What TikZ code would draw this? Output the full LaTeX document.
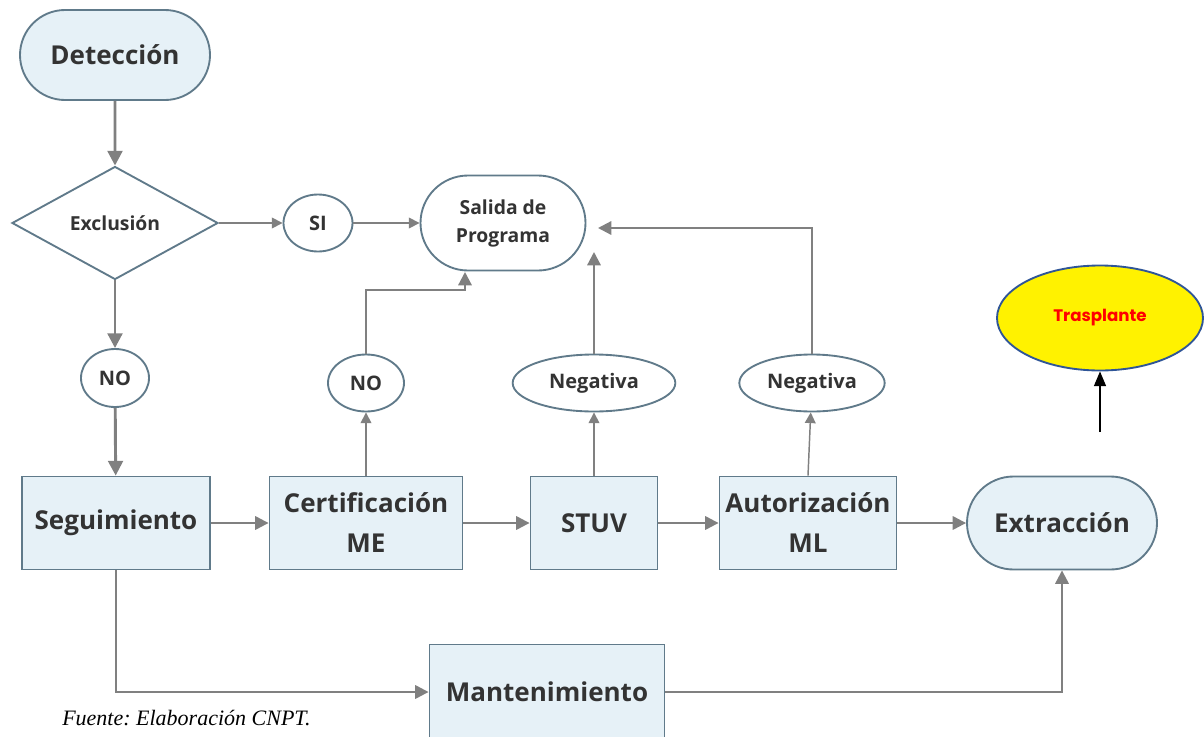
\documentclass[tikz,border=0pt]{standalone}
\usepackage{fontspec}
\setmainfont{Open Sans}
\newfontfamily\fuentefont{Liberation Serif}
\newfontfamily\trfont{Poppins}
\usetikzlibrary{shapes.geometric,shapes.misc,arrows.meta}
\definecolor{bd}{RGB}{96,122,138}
\definecolor{fl}{RGB}{230,241,247}
\definecolor{tx}{RGB}{51,51,51}
\definecolor{ar}{RGB}{128,128,128}
\definecolor{trb}{RGB}{47,85,151}
\frenchspacing
\tikzset{
  base/.style={draw=bd, line width=1.4pt, text=tx, font=\bfseries, inner sep=0pt, align=center},
  stadium/.style={base, rounded rectangle, fill=fl, minimum width=142.5pt, minimum height=67.5pt, font=\bfseries\fontsize{19.5}{24}\selectfont},
  boxnode/.style={base, rectangle, fill=fl, minimum height=69.75pt, font=\bfseries\fontsize{19.5}{30}\selectfont},
  smallnode/.style={base, ellipse, fill=white, minimum height=42.75pt, font=\bfseries\fontsize{15}{18}\selectfont},
  thick arrow/.style={draw=ar, line width=2.2pt, -{Triangle[length=11pt,width=11pt]}},
  med arrow/.style={draw=ar, line width=1.7pt, -{Triangle[length=10pt,width=10pt]}},
  thin arrow/.style={draw=ar, line width=1.1pt, -{Triangle[length=8pt,width=8pt]}},
}
\begin{document}
\begin{tikzpicture}[x=0.75pt,y=-0.75pt]
\clip (0,0) rectangle (1204,736);
\fill[white] (0,0) rectangle (1204,736);

% nodes
\node[stadium] (det) at (115,55) {Detección};
\node[base, diamond, fill=white, minimum width=154.5pt, minimum height=84.75pt, font=\bfseries\fontsize{14.5}{18}\selectfont] (exc) at (115,223) {Exclusión};
\node[smallnode, minimum width=51.75pt] (si) at (318,223) {SI};
\node[base, rounded rectangle, fill=white, minimum width=123.75pt, minimum height=71.25pt, font=\bfseries\fontsize{14.5}{21}\selectfont] (sal) at (503,223) {Salida de\\Programa};
\node[smallnode, minimum width=51pt, minimum height=43.5pt] (no1) at (115,378) {NO};
\node[smallnode, minimum width=57pt] (no2) at (366,383) {NO};
\node[smallnode, minimum width=122pt] (neg1) at (594,383) {Negativa};
\node[smallnode, minimum width=109pt] (neg2) at (812,383) {Negativa};

\node[boxnode, minimum width=141pt] (seg) at (116,523) {Seguimiento};
\node[boxnode, minimum width=144.75pt] (cert) at (366,523) {Certificación\\ME};
\node[boxnode, minimum width=95.25pt] (stuv) at (594,523) {STUV};
\node[boxnode, minimum width=132.75pt] (aut) at (808,523) {Autorización\\ML};
\node[stadium, minimum height=69.75pt] (ext) at (1062,523) {Extracción};
\node[boxnode, minimum width=176.25pt, minimum height=71.25pt] (mant) at (547,692) {Mantenimiento};

\node[draw=trb, line width=1.4pt, ellipse, fill=yellow, minimum width=154.5pt, minimum height=78.75pt, inner sep=0pt, text=red, font=\trfont\bfseries\fontsize{12.5}{14}\selectfont] (tras) at (1100,318) {Trasplante};
\coordinate (trs) at (1100,432);

\node[anchor=west, font=\fuentefont\itshape\fontsize{16.5}{20}\selectfont, text=black, inner sep=0pt] (fuente) at (62,718) {Fuente: Elaboración CNPT.};

% coordinates
\coordinate (k1) at (366,290);
\coordinate (k2) at (465,290);
\coordinate (k3) at (465,272);
\coordinate (t1) at (594,252);
\coordinate (k4) at (812,228);
\coordinate (t2) at (598,228);

% connectors
\draw[thick arrow] (det) -- (exc);
\draw[thin arrow] (exc.east) -- (si);
\draw[thin arrow] (si) -- (sal);
\draw[thick arrow] (exc.south) -- (no1);
\draw[thick arrow] (no1) -- (seg);
\draw[med arrow] (seg) -- (cert);
\draw[med arrow] (cert) -- (stuv);
\draw[med arrow] (stuv) -- (aut);
\draw[med arrow] (aut) -- (ext);
\draw[thin arrow] (cert.north) -- (no2);
\draw[thin arrow] (stuv.north) -- (neg1);
\draw[thin arrow] (aut.north) -- (neg2);
\draw[med arrow] (no2.north) -- (k1) -- (k2) -- (k3);
\draw[med arrow] (neg1.north) -- (t1);
\draw[med arrow] (neg2.north) -- (k4) -- (t2);
\draw[med arrow] (seg.south) |- (mant.west);
\draw[med arrow] (mant.east) -| (ext.south);
\draw[black, line width=1pt, -{Triangle[length=11pt,width=9pt]}] (trs) -- (tras.south);
\end{tikzpicture}
\end{document}
